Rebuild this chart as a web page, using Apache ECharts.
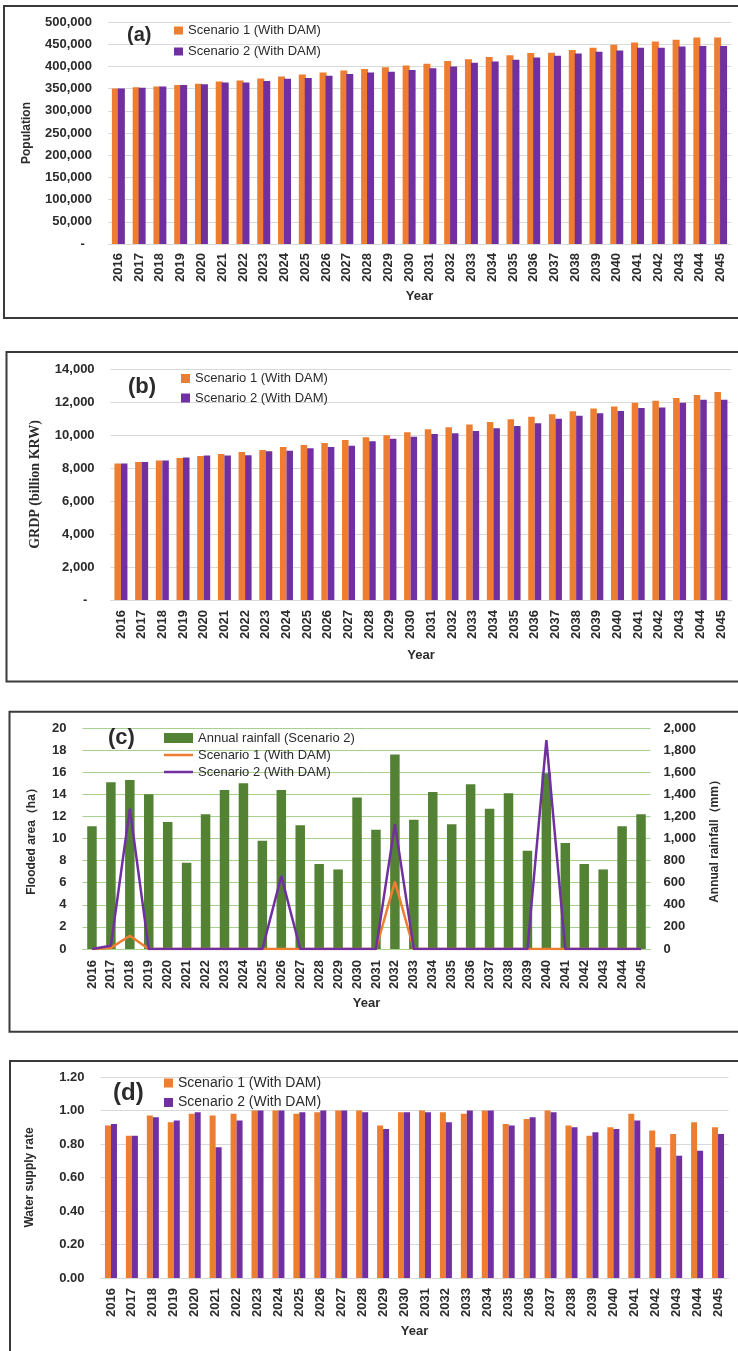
<!DOCTYPE html>
<html>
<head>
<meta charset="utf-8">
<script src="https://cdn.jsdelivr.net/npm/echarts@6/dist/echarts.min.js"></script>
<style>
  html, body { margin:0; padding:0; width:738px; height:1351px; overflow:hidden; background:#ffffff; }
  .panel { position:absolute; left:0; width:738px; }
</style>
</head>
<body>
<div id="pa" class="panel" style="top:0px;height:330px;"></div>
<div id="pb" class="panel" style="top:340px;height:345px;"></div>
<div id="pc" class="panel" style="top:700px;height:335px;"></div>
<div id="pd" class="panel" style="top:1050px;height:301px;"></div>
<script>
// ---------- DATA ----------
const years = ['2016','2017','2018','2019','2020','2021','2022','2023','2024','2025',
  '2026','2027','2028','2029','2030','2031','2032','2033','2034','2035',
  '2036','2037','2038','2039','2040','2041','2042','2043','2044','2045'];

const seriesNames = ['Scenario 1 (With DAM)', 'Scenario 2 (With DAM)'];
const rainfallName = 'Annual rainfall (Scenario 2)';

const popScen1 = [350000,353000,355000,358000,361000,366000,368000,373000,377000,382000,
  386000,391000,394000,398000,402000,406000,412000,416000,421000,425000,
  430000,431000,437000,442000,449000,454000,456000,460000,465000,465000];
const popScen2 = [350000,352000,355000,358000,360000,364000,364000,367000,372000,374000,
  379000,383000,386000,388000,392000,396000,400000,408000,411000,415000,
  420000,424000,429000,433000,436000,442000,442000,445000,446000,446000];

const grdpScen1 = [8280,8360,8460,8600,8720,8850,8970,9090,9270,9390,
  9510,9700,9860,9980,10160,10350,10470,10630,10790,10960,
  11100,11260,11440,11600,11730,11950,12070,12250,12420,12600];
const grdpScen2 = [8280,8360,8460,8640,8760,8760,8780,9010,9050,9190,
  9270,9350,9620,9780,9900,10060,10100,10250,10410,10550,
  10710,10980,11160,11320,11460,11630,11670,11950,12130,12130];

const rainfall = [1110,1510,1530,1400,1150,780,1220,1440,1500,980,
  1440,1120,770,720,1370,1080,1760,1170,1420,1130,
  1490,1270,1410,890,1590,960,770,720,1110,1220];
const floodScen1 = [0,0.1,1.2,0,0,0,0,0,0,0,
  0,0,0,0,0,0,6.1,0,0,0,
  0,0,0,0,0,0,0,0,0,0];
const floodScen2 = [0,0.3,12.7,0,0,0,0,0,0,0,
  6.6,0,0,0,0,0,11.3,0,0,0,
  0,0,0,0,18.9,0,0,0,0,0];

const supplyScen1 = [0.91,0.85,0.97,0.93,0.98,0.97,0.98,1.00,1.00,0.98,
  0.99,1.00,1.00,0.91,0.99,1.00,0.99,0.98,1.00,0.92,
  0.95,1.00,0.91,0.85,0.90,0.98,0.88,0.86,0.93,0.90];
const supplyScen2 = [0.92,0.85,0.96,0.94,0.99,0.78,0.94,1.00,1.00,0.99,
  1.00,1.00,0.99,0.89,0.99,0.99,0.93,1.00,1.00,0.91,
  0.96,0.99,0.90,0.87,0.89,0.94,0.78,0.73,0.76,0.86];

// ---------- STYLE ----------
const ORANGE = '#ED7D31';
const PURPLE = '#7030A0';
const GREEN = '#548235';
const FONT = "'Liberation Sans', Arial, sans-serif";
const TXT = '#2b2b2b';
const LINE_ICON = 'path://M0,0L29,0M0,3.7L29,3.7L29,6.3L0,6.3ZM0,10L29,10';

function boxGraphic(x, y, w, h) {
  return [{
    type: 'rect',
    shape: { x: x, y: y, width: w, height: h },
    style: { fill: 'none', stroke: '#3a3a3a', lineWidth: 2 },
    silent: true
  }];
}

function xAxisCfg(nameGap, margin, lineColor) {
  return {
    type: 'category',
    data: years,
    axisTick: { show: false },
    axisLine: { show: true, lineStyle: { color: lineColor, width: 1 } },
    axisLabel: { rotate: 90, interval: 0, margin: margin, fontSize: 13, fontWeight: 'bold', color: TXT, fontFamily: FONT },
    name: 'Year',
    nameLocation: 'middle',
    nameGap: nameGap,
    nameTextStyle: { fontSize: 13, fontWeight: 'bold', color: TXT, fontFamily: FONT }
  };
}

function yAxisCfg(o) {
  return {
    type: 'value',
    min: 0, max: o.max, interval: o.interval,
    position: o.position || 'left',
    axisLine: { show: false },
    axisTick: { show: false },
    splitLine: { show: o.split !== false, lineStyle: { color: o.gridColor || '#D9D9D9', width: 1 } },
    axisLabel: { margin: o.margin || 16, fontSize: 13, fontWeight: 'bold', color: TXT, fontFamily: FONT, formatter: o.formatter },
    name: o.name,
    nameLocation: 'middle',
    nameRotate: 90,
    nameGap: o.nameGap,
    nameTextStyle: Object.assign({ fontSize: 12, fontWeight: 'bold', color: TXT, fontFamily: FONT }, o.nameStyle || {})
  };
}

function titleCfg(text, left, top, size) {
  return { text: text, left: left, top: top, padding: 0,
    textStyle: { fontSize: size, fontWeight: 'bold', color: TXT, fontFamily: FONT } };
}

function legendCfg(left, top, itemW, itemH, gap, fontSize, lh, data) {
  return {
    orient: 'vertical', left: left, top: top, padding: 0,
    itemWidth: itemW, itemHeight: itemH, itemGap: gap,
    selectedMode: false,
    icon: 'rect',
    itemStyle: { borderWidth: 0 },
    textStyle: { fontSize: fontSize, color: TXT, fontFamily: FONT, lineHeight: lh },
    data: data
  };
}

const dashFmt = v => v === 0 ? '-  ' : v.toLocaleString('en-US');

// ---------- (a) Population ----------
echarts.init(document.getElementById('pa')).setOption({
  animation: false,
  graphic: boxGraphic(4, 6, 800, 312),
  title: titleCfg('(a)', 127, 25, 20),
  legend: legendCfg(174, 23.5, 9, 8, 7, 13, 14, seriesNames),
  grid: { left: 108, top: 22, width: 623, height: 222 },
  xAxis: xAxisCfg(45, 9, '#D9D9D9'),
  yAxis: yAxisCfg({ max: 500000, interval: 50000, formatter: dashFmt, name: 'Population', nameGap: 75 }),
  series: [
    { name: seriesNames[0], type: 'bar', data: popScen1, barWidth: 7, itemStyle: { color: ORANGE } },
    { name: seriesNames[1], type: 'bar', data: popScen2, barWidth: 7, barGap: '-15%', itemStyle: { color: PURPLE } }
  ]
});

// ---------- (b) GRDP ----------
echarts.init(document.getElementById('pb')).setOption({
  animation: false,
  graphic: boxGraphic(6.5, 12, 800, 329.5),
  title: titleCfg('(b)', 128, 36, 22),
  legend: legendCfg(181, 31.5, 9, 9, 5.5, 13, 14, seriesNames),
  grid: { left: 110.6, top: 29, width: 620.7, height: 231 },
  xAxis: xAxisCfg(49, 10, '#D9D9D9'),
  yAxis: yAxisCfg({ max: 14000, interval: 2000, formatter: dashFmt, name: 'GRDP (billion KRW)', nameGap: 68,
    nameStyle: { fontSize: 14, fontFamily: "'Liberation Serif', 'Times New Roman', serif" } }),
  series: [
    { name: seriesNames[0], type: 'bar', data: grdpScen1, barWidth: 6.5, itemStyle: { color: ORANGE } },
    { name: seriesNames[1], type: 'bar', data: grdpScen2, barWidth: 6.5, barGap: '0%', itemStyle: { color: PURPLE } }
  ]
});

// ---------- (c) Flooded area & rainfall ----------
echarts.init(document.getElementById('pc')).setOption({
  animation: false,
  graphic: boxGraphic(9.5, 11.7, 800, 320),
  title: titleCfg('(c)', 108, 27, 22),
  legend: legendCfg(164, 31, 29, 10, 3, 13, 14, [
    { name: rainfallName, icon: 'rect' },
    { name: seriesNames[0], icon: LINE_ICON },
    { name: seriesNames[1], icon: LINE_ICON }
  ]),
  grid: { left: 82.5, top: 28, width: 568, height: 221 },
  xAxis: xAxisCfg(48, 11, '#A9D18E'),
  yAxis: [
    yAxisCfg({ max: 20, interval: 2, name: 'Flooded area（ha）', nameGap: 45, gridColor: '#A9D18E' }),
    yAxisCfg({ max: 2000, interval: 200, position: 'right', split: false, margin: 13,
      formatter: v => v.toLocaleString('en-US'), name: 'Annual rainfall（mm）', nameGap: 58 })
  ],
  series: [
    { name: rainfallName, type: 'bar', yAxisIndex: 1, data: rainfall, barWidth: 9.5, itemStyle: { color: GREEN } },
    { name: seriesNames[0], type: 'line', yAxisIndex: 0, data: floodScen1, symbol: 'none',
      lineStyle: { color: ORANGE, width: 2.5 }, itemStyle: { color: ORANGE } },
    { name: seriesNames[1], type: 'line', yAxisIndex: 0, data: floodScen2, symbol: 'none',
      lineStyle: { color: PURPLE, width: 2.5 }, itemStyle: { color: PURPLE } }
  ]
});

// ---------- (d) Water supply rate ----------
echarts.init(document.getElementById('pd')).setOption({
  animation: false,
  graphic: boxGraphic(10, 11, 800, 400),
  title: titleCfg('(d)', 113, 31.5, 24),
  legend: legendCfg(164, 25.5, 9, 9, 4.5, 14, 15, seriesNames),
  grid: { left: 100.5, top: 27, width: 628, height: 201 },
  xAxis: xAxisCfg(46, 10, '#D9D9D9'),
  yAxis: yAxisCfg({ max: 1.2, interval: 0.2, formatter: v => v.toFixed(2), name: 'Water supply rate', nameGap: 65 }),
  series: [
    { name: seriesNames[0], type: 'bar', data: supplyScen1, barWidth: 6, itemStyle: { color: ORANGE } },
    { name: seriesNames[1], type: 'bar', data: supplyScen2, barWidth: 6, barGap: '0%', itemStyle: { color: PURPLE } }
  ]
});
</script>
</body>
</html>
